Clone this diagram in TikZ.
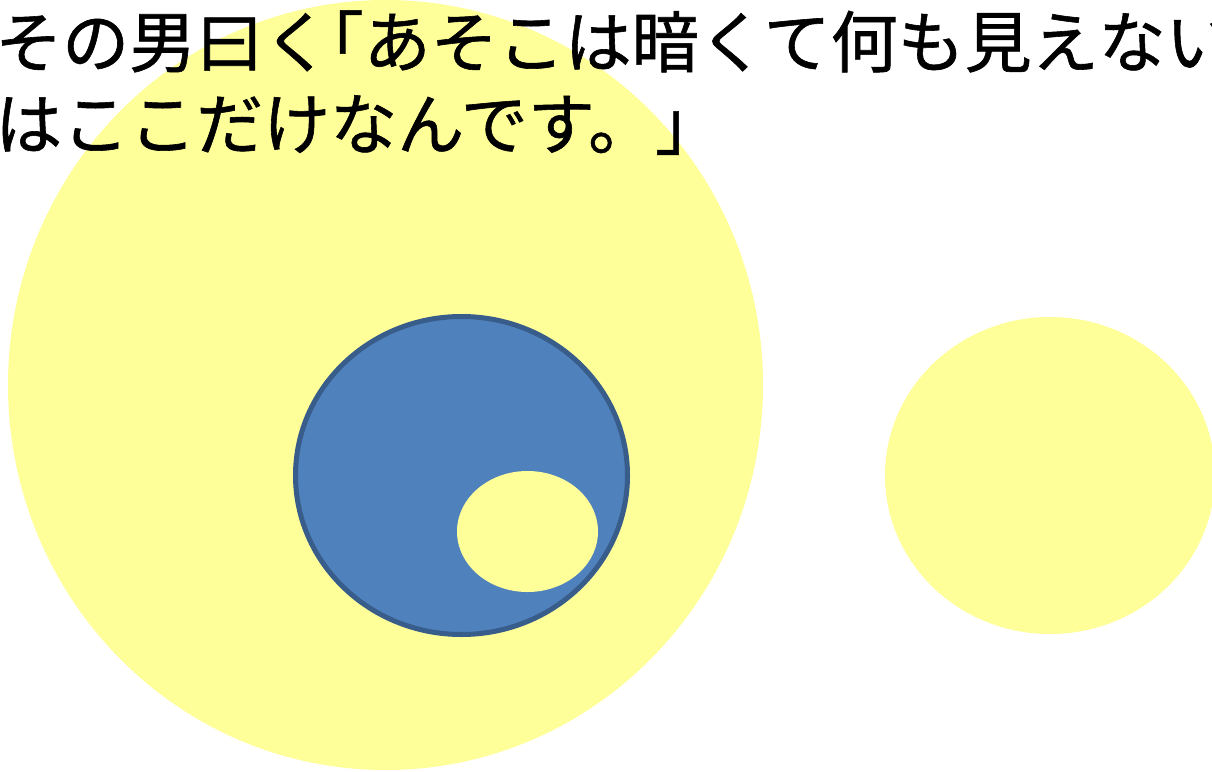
\documentclass[tikz,border=0pt]{standalone}
\usepackage{fontspec}
\newfontfamily\jp[FakeBold=0.9]{Noto Sans CJK JP}
\definecolor{lemon}{HTML}{FFFF99}
\definecolor{oblue}{HTML}{4F81BD}
\definecolor{oblueline}{HTML}{385D8A}
\tikzset{
  lemonshape/.style={fill=lemon},
  blueshape/.style={fill=oblue, draw=oblueline, line width=5pt},
  jptext/.style={anchor=base west, inner sep=0pt, font=\jp\fontsize{67}{70}\selectfont, text=black}
}
\begin{document}
\begin{tikzpicture}[x=1pt,y=-1pt]
\useasboundingbox (0,0) rectangle (1212,771);
\clip (0,0) rectangle (1212,771);
\fill[white] (0,0) rectangle (1212,771);
% shapes
\fill[lemonshape] (385.5,385) ellipse [x radius=377.5, y radius=385];
\draw[blueshape] (461.5,475.5) ellipse [x radius=166, y radius=159];
\fill[lemonshape] (527.5,531.5) ellipse [x radius=70.5, y radius=60.5];
\fill[lemonshape] (1050,475.5) ellipse [x radius=165, y radius=158.5];
% text
\node[jptext] (line1) at (-5,67) {その男曰く\hspace*{-0.5em}「あそこは暗くて何も見えない};
\node[jptext] (line2) at (-5,149) {はここだけなんです。」};
\end{tikzpicture}
\end{document}
